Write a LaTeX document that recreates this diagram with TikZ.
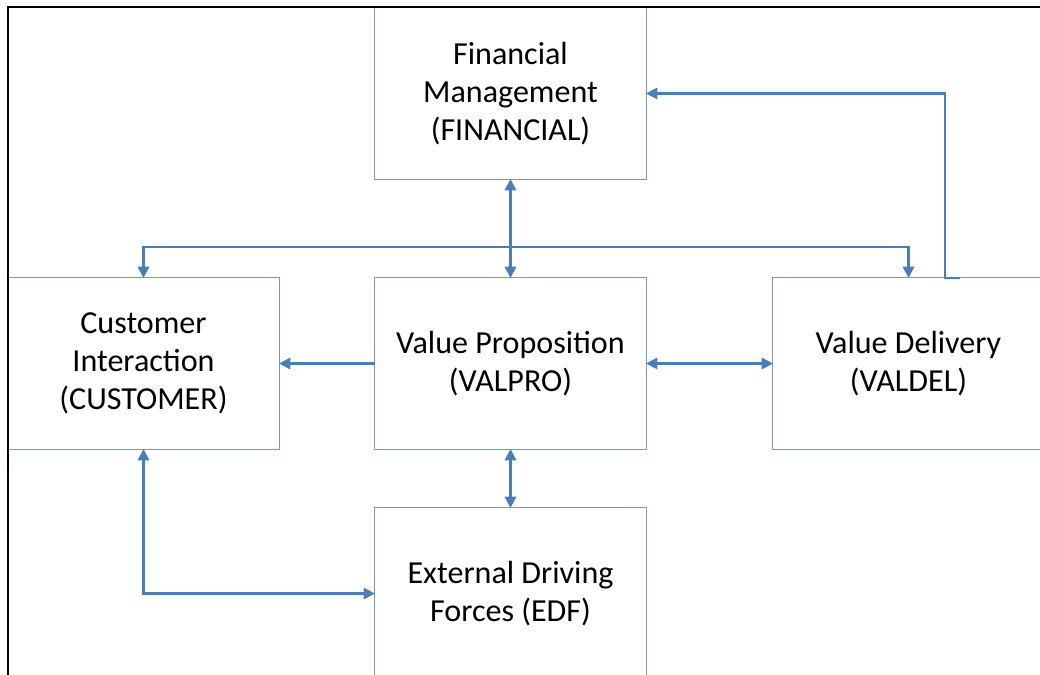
\documentclass[tikz,border=0pt]{standalone}
\usepackage{fontspec}
\setmainfont{Carlito}
\usetikzlibrary{arrows.meta}
\definecolor{boxline}{HTML}{7F96BA}
\definecolor{linkblue}{HTML}{4A7EBB}

\begin{document}
\begin{tikzpicture}[x=0.025cm, y=-0.025cm,
  every node/.style={draw=boxline, line width=0.7pt, minimum width=6.775cm, minimum height=4.275cm, align=center, font=\fontsize{22.8}{27}\selectfont, outer sep=0pt},
  link/.style={draw=linkblue, line width=1.6pt, arrows={-}, >={Triangle[length=8pt,width=8pt]}}]
\clip (0,0) rectangle (1040,675);

\node (fin) at (510.5,93.5) {Financial\\Management\\(FINANCIAL)};
\node (cust) at (143.5,363.5) {Customer\\Interaction\\(CUSTOMER)};
\node (valpro) at (510.5,363.5) {Value Proposition\\(VALPRO)};
\node (valdel) at (908.5,363.5) {Value Delivery\\(VALDEL)};
\node (edf) at (510.5,593.5) {External Driving\\Forces (EDF)};

\coordinate (bus) at (510.5,247);
\coordinate (vdtap) at (960,278);

\draw[link,<->] (fin) -- (valpro);
\draw[link,->] (bus) -| (cust.north);
\draw[link,->] (bus) -| (valdel.north);
\draw[link,->] (valpro) -- (cust);
\draw[link,<->] (valpro) -- (valdel);
\draw[link,<->] (valpro) -- (edf);
\draw[link,<->] (cust) |- (edf);
\draw[link,->] (vdtap) -- ++(-15,0) |- (fin);

\draw[black, line width=1.6pt] (8,680) -- (8,7) -- (1045,7);
\end{tikzpicture}
\end{document}
